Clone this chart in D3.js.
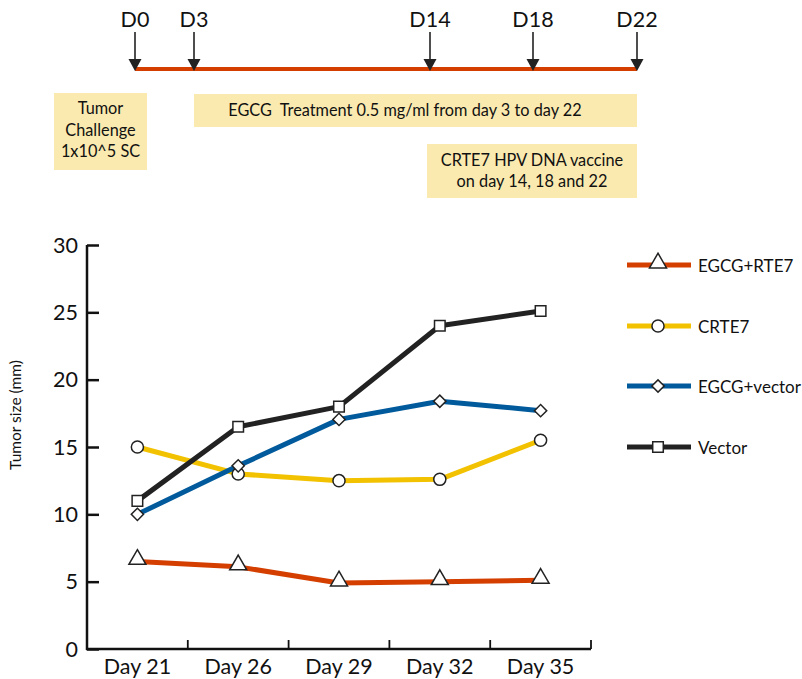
<!DOCTYPE html>
<html><head><meta charset="utf-8">
<script src="https://cdn.jsdelivr.net/npm/d3@7"></script>
<style>
body{margin:0;background:#fff;}
svg{display:block;font-family:Lato, "Open Sans", sans-serif;}
</style></head>
<body><svg id="c" width="802" height="679"></svg>
<script>
// ---- data ----
const days = ["Day 21","Day 26","Day 29","Day 32","Day 35"];
const egcgRte7 = [6.5, 6.1, 4.9, 5.0, 5.1];
const crte7 = [15.0, 13.0, 12.5, 12.6, 15.5];
const egcgVector = [10.0, 13.6, 17.05, 18.4, 17.7];
const vectorOnly = [11.0, 16.5, 18.0, 24.0, 25.1];
const seriesNames = ["EGCG+RTE7","CRTE7","EGCG+vector","Vector"];
const yTicks = [0,5,10,15,20,25,30];
const timelineDays = [0,3,14,18,22];
const timelineLabels = ["D0","D3","D14","D18","D22"];

const colors = ["#d43f00","#f2c200","#005a9c","#222222"];
const shapes = [d3.symbolTriangle, d3.symbolCircle, d3.symbolSquare, d3.symbolSquare];
const shapeSizes = [125, 115, 75, 112];
const shapeRot = [0, 0, 45, 0];
const shapeDy = [-2, 0, 0, 0];

const svg = d3.select("#c");

// ---- timeline ----
const tx = d3.scaleLinear().domain(timelineDays).range([135,194,430,533,637]);
const tlY = 69;
svg.append("line").attr("x1",tx(0)).attr("x2",tx(22)).attr("y1",tlY).attr("y2",tlY)
  .attr("stroke","#d43f00").attr("stroke-width",4);
timelineDays.forEach((d,i)=>{
  const x = tx(d);
  svg.append("line").attr("x1",x).attr("x2",x).attr("y1",32).attr("y2",60)
    .attr("stroke","#222").attr("stroke-width",1.6);
  svg.append("path").attr("d",`M${x-6.5},${59}L${x+6.5},${59}L${x},${71}Z`).attr("fill","#222");
  svg.append("text").attr("x",x).attr("y",27).attr("text-anchor","middle")
    .attr("font-size",21.5).attr("fill","#111").text(timelineLabels[i]);
});
const boxFill = "#faeab0";
svg.append("rect").attr("x",54).attr("y",93).attr("width",93).attr("height",77).attr("fill",boxFill);
["Tumor","Challenge","1x10^5 SC"].forEach((t,i)=>{
  svg.append("text").attr("x",100.5).attr("y",114+i*21.5).attr("text-anchor","middle")
    .attr("font-size",16.3).attr("fill","#111").text(t);
});
svg.append("rect").attr("x",tx(3)).attr("y",94).attr("width",tx(22)-tx(3)).attr("height",33).attr("fill",boxFill);
svg.append("text").attr("x",405).attr("y",115.5).attr("text-anchor","middle")
  .attr("font-size",16.3).attr("fill","#111").attr("xml:space","preserve")
  .text("EGCG  Treatment 0.5 mg/ml from day 3 to day 22");
svg.append("rect").attr("x",tx(14)-3).attr("y",144).attr("width",tx(22)-tx(14)+3).attr("height",54).attr("fill",boxFill);
["CRTE7 HPV DNA vaccine","on day 14, 18 and 22"].forEach((t,i)=>{
  svg.append("text").attr("x",532).attr("y",165.5+i*21).attr("text-anchor","middle")
    .attr("font-size",16.3).attr("fill","#111").text(t);
});

// ---- chart ----
const x = d3.scaleBand().domain(days).range([87,591]).padding(0);
const y = d3.scaleLinear().domain([0,30]).range([649,245]);

const yAxis = svg.append("g").attr("transform","translate(87,0)")
  .call(d3.axisRight(y).tickValues(yTicks).tickSize(12).tickFormat(""));
yAxis.select(".domain").attr("stroke","#111").attr("stroke-width",2.5).attr("d","M0,245V650");
yAxis.selectAll(".tick line").attr("stroke","#111").attr("stroke-width",2.5);
yTicks.forEach(t=>{
  svg.append("text").attr("x",78).attr("y",y(t)+7.5).attr("text-anchor","end")
    .attr("font-size",21.5).attr("fill","#111").text(t);
});

const xAxis = svg.append("g").attr("transform","translate(0,649)")
  .call(d3.axisTop(x).tickSize(0).tickFormat(""));
xAxis.select(".domain").attr("stroke","#111").attr("stroke-width",2.5).attr("d","M86,0H591");
days.forEach(d=>{
  const b = x(d)+x.bandwidth();
  svg.append("line").attr("x1",b).attr("x2",b).attr("y1",640).attr("y2",649)
    .attr("stroke","#111").attr("stroke-width",1.8);
  svg.append("text").attr("x",x(d)+x.bandwidth()/2).attr("y",674).attr("text-anchor","middle")
    .attr("font-size",21.5).attr("fill","#111").text(d);
});

svg.append("text").attr("transform","translate(21,415) rotate(-90)").attr("text-anchor","middle")
  .attr("font-size",15.5).attr("fill","#111").text("Tumor size (mm)");

const allSeries = [egcgRte7, crte7, egcgVector, vectorOnly];
const line = d3.line().x((v,i)=>x(days[i])+x.bandwidth()/2).y(v=>y(v));
allSeries.forEach((vals,si)=>{
  svg.append("path").attr("d",line(vals)).attr("fill","none")
    .attr("stroke",colors[si]).attr("stroke-width",5).attr("stroke-linejoin","round");
});
allSeries.forEach((vals,si)=>{
  vals.forEach((v,i)=>{
    svg.append("path").attr("d",d3.symbol().type(shapes[si]).size(shapeSizes[si])())
      .attr("transform",`translate(${x(days[i])+x.bandwidth()/2},${y(v)+shapeDy[si]}) rotate(${shapeRot[si]})`)
      .attr("fill","#fff").attr("stroke","#222").attr("stroke-width",1.5);
  });
});

// ---- legend ----
const legY = [265,326,386,447];
seriesNames.forEach((n,i)=>{
  svg.append("line").attr("x1",627).attr("x2",691).attr("y1",legY[i]).attr("y2",legY[i])
    .attr("stroke",colors[i]).attr("stroke-width",5);
  svg.append("path").attr("d",d3.symbol().type(shapes[i]).size(shapeSizes[i])())
    .attr("transform",`translate(658,${legY[i]+shapeDy[i]}) rotate(${shapeRot[i]})`)
    .attr("fill","#fff").attr("stroke","#222").attr("stroke-width",1.5);
  svg.append("text").attr("x",698).attr("y",legY[i]+6.5).attr("font-size",17)
    .attr("fill","#111").text(n);
});
</script></body></html>
